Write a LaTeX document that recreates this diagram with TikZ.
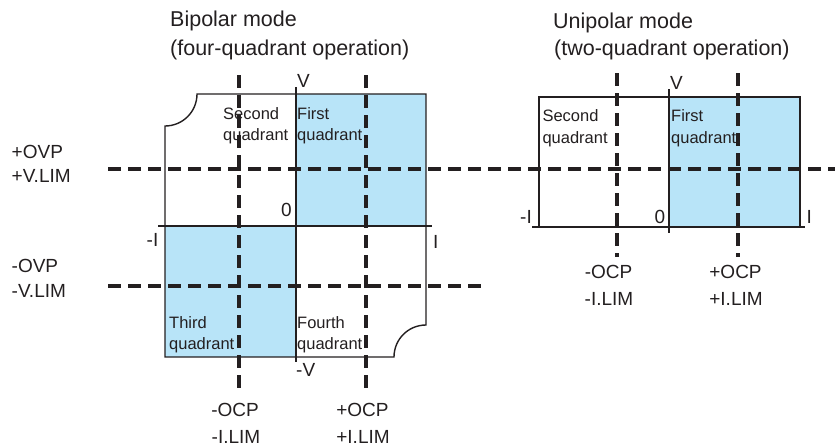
\documentclass[tikz,border=0pt]{standalone}
\usepackage{fontspec}
\setmainfont{Liberation Sans}
\usetikzlibrary{positioning}
\definecolor{quadblue}{HTML}{B8E4F8}
\definecolor{inkgray}{HTML}{231F20}
\tikzset{
  frame/.style={draw=inkgray, line width=1.4pt, line join=miter},
  axis/.style={draw=inkgray, line width=1.7pt},
  limit/.style={draw=inkgray, line width=3.2pt, dash pattern=on 13pt off 7pt},
  title/.style={font=\fontsize{21.5}{26}\selectfont, text=inkgray, inner sep=0pt, anchor=base west},
  lbl/.style={font=\fontsize{19}{23}\selectfont, text=inkgray, inner sep=0pt},
  quad/.style={font=\fontsize{16.5}{20}\selectfont, text=inkgray, inner sep=0pt, anchor=base west},
}
\begin{document}
\begin{tikzpicture}[x=1pt,y=-1pt]
  \useasboundingbox (0,0) rectangle (835,447);
  % bipolar mode
  \fill[quadblue] (296,94) rectangle (426,226);
  \fill[quadblue] (165,226) rectangle (296,357);
  \draw[frame] (197,94) -- (426,94) -- (426,325)
    .. controls (408.3,325) and (394,339.3) .. (394,357) -- (165,357) -- (165,126)
    .. controls (182.7,126) and (197,111.7) .. (197,94) -- cycle;
  \draw[axis] (158,226) -- (432,226);
  \draw[axis] (296,87) -- (296,362);
  \node[title] (bititle) at (170,27) {Bipolar mode};
  \node[title] (bisub) at (170,55.5) {(four-quadrant operation)};
  \node[quad] (bisec1) at (223,119) {Second};
  \node[quad] (bisec2) at (223,140) {quadrant};
  \node[quad] (bifst1) at (297,119) {First};
  \node[quad] (bifst2) at (297,140) {quadrant};
  \node[quad] (bithd1) at (169,328.3) {Third};
  \node[quad] (bithd2) at (169,349.3) {quadrant};
  \node[quad] (bifth1) at (297,328.3) {Fourth};
  \node[quad] (bifth2) at (297,349.3) {quadrant};
  \node[lbl, anchor=base west] (biv) at (297,87.5) {V};
  \node[lbl, anchor=base west] (bimv) at (296,376.7) {-V};
  \node[lbl, anchor=base east] (bizero) at (292,216) {0};
  \node[lbl, anchor=base east] (bimi) at (158.5,246) {-I};
  \node[lbl, anchor=base west] (bii) at (433,248) {I};
  % voltage limits
  \node[lbl, anchor=base west] (ovpp) at (11.5,158) {+OVP};
  \node[lbl, anchor=base west] (vlimp) at (11.5,182.5) {+V.LIM};
  \node[lbl, anchor=base west] (ovpm) at (11.5,272.5) {-OVP};
  \node[lbl, anchor=base west] (vlimm) at (11.5,297) {-V.LIM};
  % current limits
  \node[lbl, anchor=base] (biocpm) at (235,416.7) {-OCP};
  \node[lbl, anchor=base] (bilimm) at (236,443) {-I.LIM};
  \node[lbl, anchor=base] (biocpp) at (362.5,416.7) {+OCP};
  \node[lbl, anchor=base] (bilimp) at (363,443) {+I.LIM};
  % unipolar mode
  \fill[quadblue] (669,97) rectangle (800,227);
  \draw[frame] (539,97) rectangle (800,227);
  \draw[axis] (532,227) -- (805,227);
  \draw[axis] (669,89) -- (669,233);
  \node[title] (untitle) at (553,28) {Unipolar mode};
  \node[title] (unsub) at (554,55) {(two-quadrant operation)};
  \node[quad] (unsec1) at (542.3,121.7) {Second};
  \node[quad] (unsec2) at (542.3,143.3) {quadrant};
  \node[quad] (unfst1) at (671,121.7) {First};
  \node[quad] (unfst2) at (671,143.3) {quadrant};
  \node[lbl, anchor=base west] (unv) at (670,89) {V};
  \node[lbl, anchor=base east] (unzero) at (665.5,223) {0};
  \node[lbl, anchor=base east] (unmi) at (532,223) {-I};
  \node[lbl, anchor=base west] (uni) at (806.5,223) {I};
  \node[lbl, anchor=base] (unocpm) at (608.5,278.3) {-OCP};
  \node[lbl, anchor=base] (unlimm) at (609,305) {-I.LIM};
  \node[lbl, anchor=base] (unocpp) at (735.5,278.3) {+OCP};
  \node[lbl, anchor=base] (unlimp) at (736,305) {+I.LIM};
  % limit lines
  \draw[limit] (108,169) -- (835,169);
  \draw[limit] (108,286) -- (482,286);
  \foreach \x in {239,366} \draw[limit] (\x,75) -- (\x,393);
  \foreach \x in {617,738} \draw[limit] (\x,73) -- (\x,257);
\end{tikzpicture}
\end{document}
